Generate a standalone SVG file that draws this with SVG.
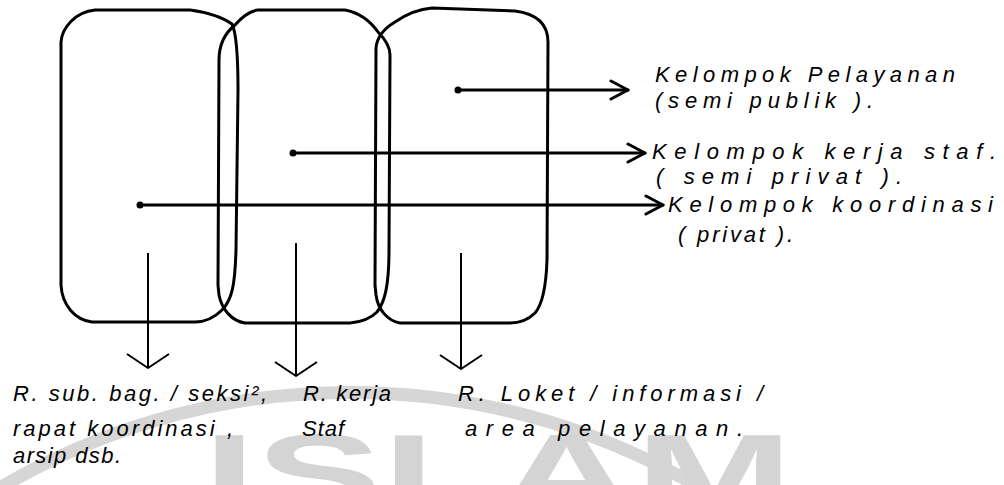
<svg xmlns="http://www.w3.org/2000/svg" width="1004" height="485" viewBox="0 0 1004 485">
<style>
.box{fill:none;stroke:#000;stroke-width:3;stroke-linejoin:round;stroke-linecap:round}
.conn{fill:none;stroke:#000;stroke-width:3;stroke-linecap:round}
.down{fill:none;stroke:#000;stroke-width:2}
.lbl{font-family:"Liberation Sans",Arial,sans-serif;font-style:italic;font-size:22px;fill:#000}
.wm{font-family:"Liberation Sans",Arial,sans-serif;font-weight:bold;font-size:112px;fill:#d4d4d4}
</style>
<defs>
<marker id="ah" viewBox="0 0 22 22" refX="19" refY="11" markerWidth="22" markerHeight="22" markerUnits="userSpaceOnUse" orient="auto">
<path d="M2,2 L19,11 L2,20" fill="none" stroke="#000" stroke-width="3" stroke-linejoin="round" stroke-linecap="round"/>
</marker>
<marker id="ad" viewBox="0 0 20 50" refX="16" refY="25" markerWidth="20" markerHeight="50" markerUnits="userSpaceOnUse" orient="auto">
<path d="M2,4 L16,25 L2,46" fill="none" stroke="#000" stroke-width="2" stroke-linejoin="round"/>
</marker>
</defs>
<rect width="1004" height="485" fill="#fff"/>
<g id="watermark">
<path d="M-20,500 A690,690 0 0 1 720,500" fill="none" stroke="#d6d6d6" stroke-width="13"/>
<text class="wm" x="203" y="512" textLength="590" lengthAdjust="spacingAndGlyphs">ISLAM</text>
</g>
<g id="box-koordinasi">
<path class="box" d="M61,285 L61,42 C62,28 75,12 95,10 L190,10 C205,12 222,17 232,24 C236,32 238,60 238,90 L236,250 C235,285 232,300 222,310 C214,318 205,322 195,322 L92,322 C75,320 62,305 61,285 Z"/>
</g>
<g id="box-staf">
<path class="box" d="M218,285 L219,60 C219,45 225,33 235,25 C242,17 250,11 258,10 L345,10 C356,12 368,18 378,32 C386,40 390,48 390,55 L389,250 C389,285 385,302 377,312 C370,319 362,322 350,323 L245,323 C232,321 222,310 219,295 Z"/>
</g>
<g id="box-pelayanan">
<path class="box" d="M375,285 L376,48 C377,36 385,28 395,22 C408,13 420,9 432,8 L515,11 C538,14 548,25 548,42 L547,260 C546,290 542,305 535,313 C528,320 520,323 510,323 L400,323 C388,321 378,310 376,295 Z"/>
</g>
<g id="connectors">
<circle cx="458" cy="90" r="3.5"/>
<line class="conn" x1="458" y1="90" x2="628" y2="90" marker-end="url(#ah)"/>
<circle cx="293" cy="153" r="3.5"/>
<line class="conn" x1="293" y1="153" x2="645" y2="153" marker-end="url(#ah)"/>
<circle cx="140" cy="205" r="3.5"/>
<line class="conn" x1="140" y1="205" x2="663" y2="205" marker-end="url(#ah)"/>
<line class="down" x1="148" y1="253" x2="148" y2="368" marker-end="url(#ad)"/>
<line class="down" x1="296" y1="243" x2="296" y2="376" marker-end="url(#ad)"/>
<line class="down" x1="461" y1="253" x2="461" y2="369" marker-end="url(#ad)"/>
</g>
<g id="labels-right">
<text class="lbl" x="655" y="82" textLength="300" lengthAdjust="spacing">Kelompok Pelayanan</text>
<text class="lbl" x="655" y="108" textLength="218" lengthAdjust="spacing">(semi publik ).</text>
<text class="lbl" x="652" y="159" textLength="344" lengthAdjust="spacing">Kelompok kerja staf.</text>
<text class="lbl" x="656" y="184" textLength="246" lengthAdjust="spacing">( semi privat ).</text>
<text class="lbl" x="668" y="212" textLength="325" lengthAdjust="spacing">Kelompok koordinasi</text>
<text class="lbl" x="678" y="242" textLength="115" lengthAdjust="spacing">( privat ).</text>
</g>
<g id="labels-bottom">
<text class="lbl" x="13" y="401" textLength="254" lengthAdjust="spacing">R. sub. bag. / seksi²,</text>
<text class="lbl" x="303" y="401" textLength="88" lengthAdjust="spacing">R. kerja</text>
<text class="lbl" x="458" y="401" textLength="305" lengthAdjust="spacing">R. Loket / informasi /</text>
<text class="lbl" x="13" y="436" textLength="220" lengthAdjust="spacing">rapat koordinasi ,</text>
<text class="lbl" x="302" y="436" textLength="42" lengthAdjust="spacing">Staf</text>
<text class="lbl" x="465" y="436" textLength="278" lengthAdjust="spacing">area pelayanan.</text>
<text class="lbl" x="13" y="463" textLength="108" lengthAdjust="spacing">arsip dsb.</text>
</g>
</svg>
